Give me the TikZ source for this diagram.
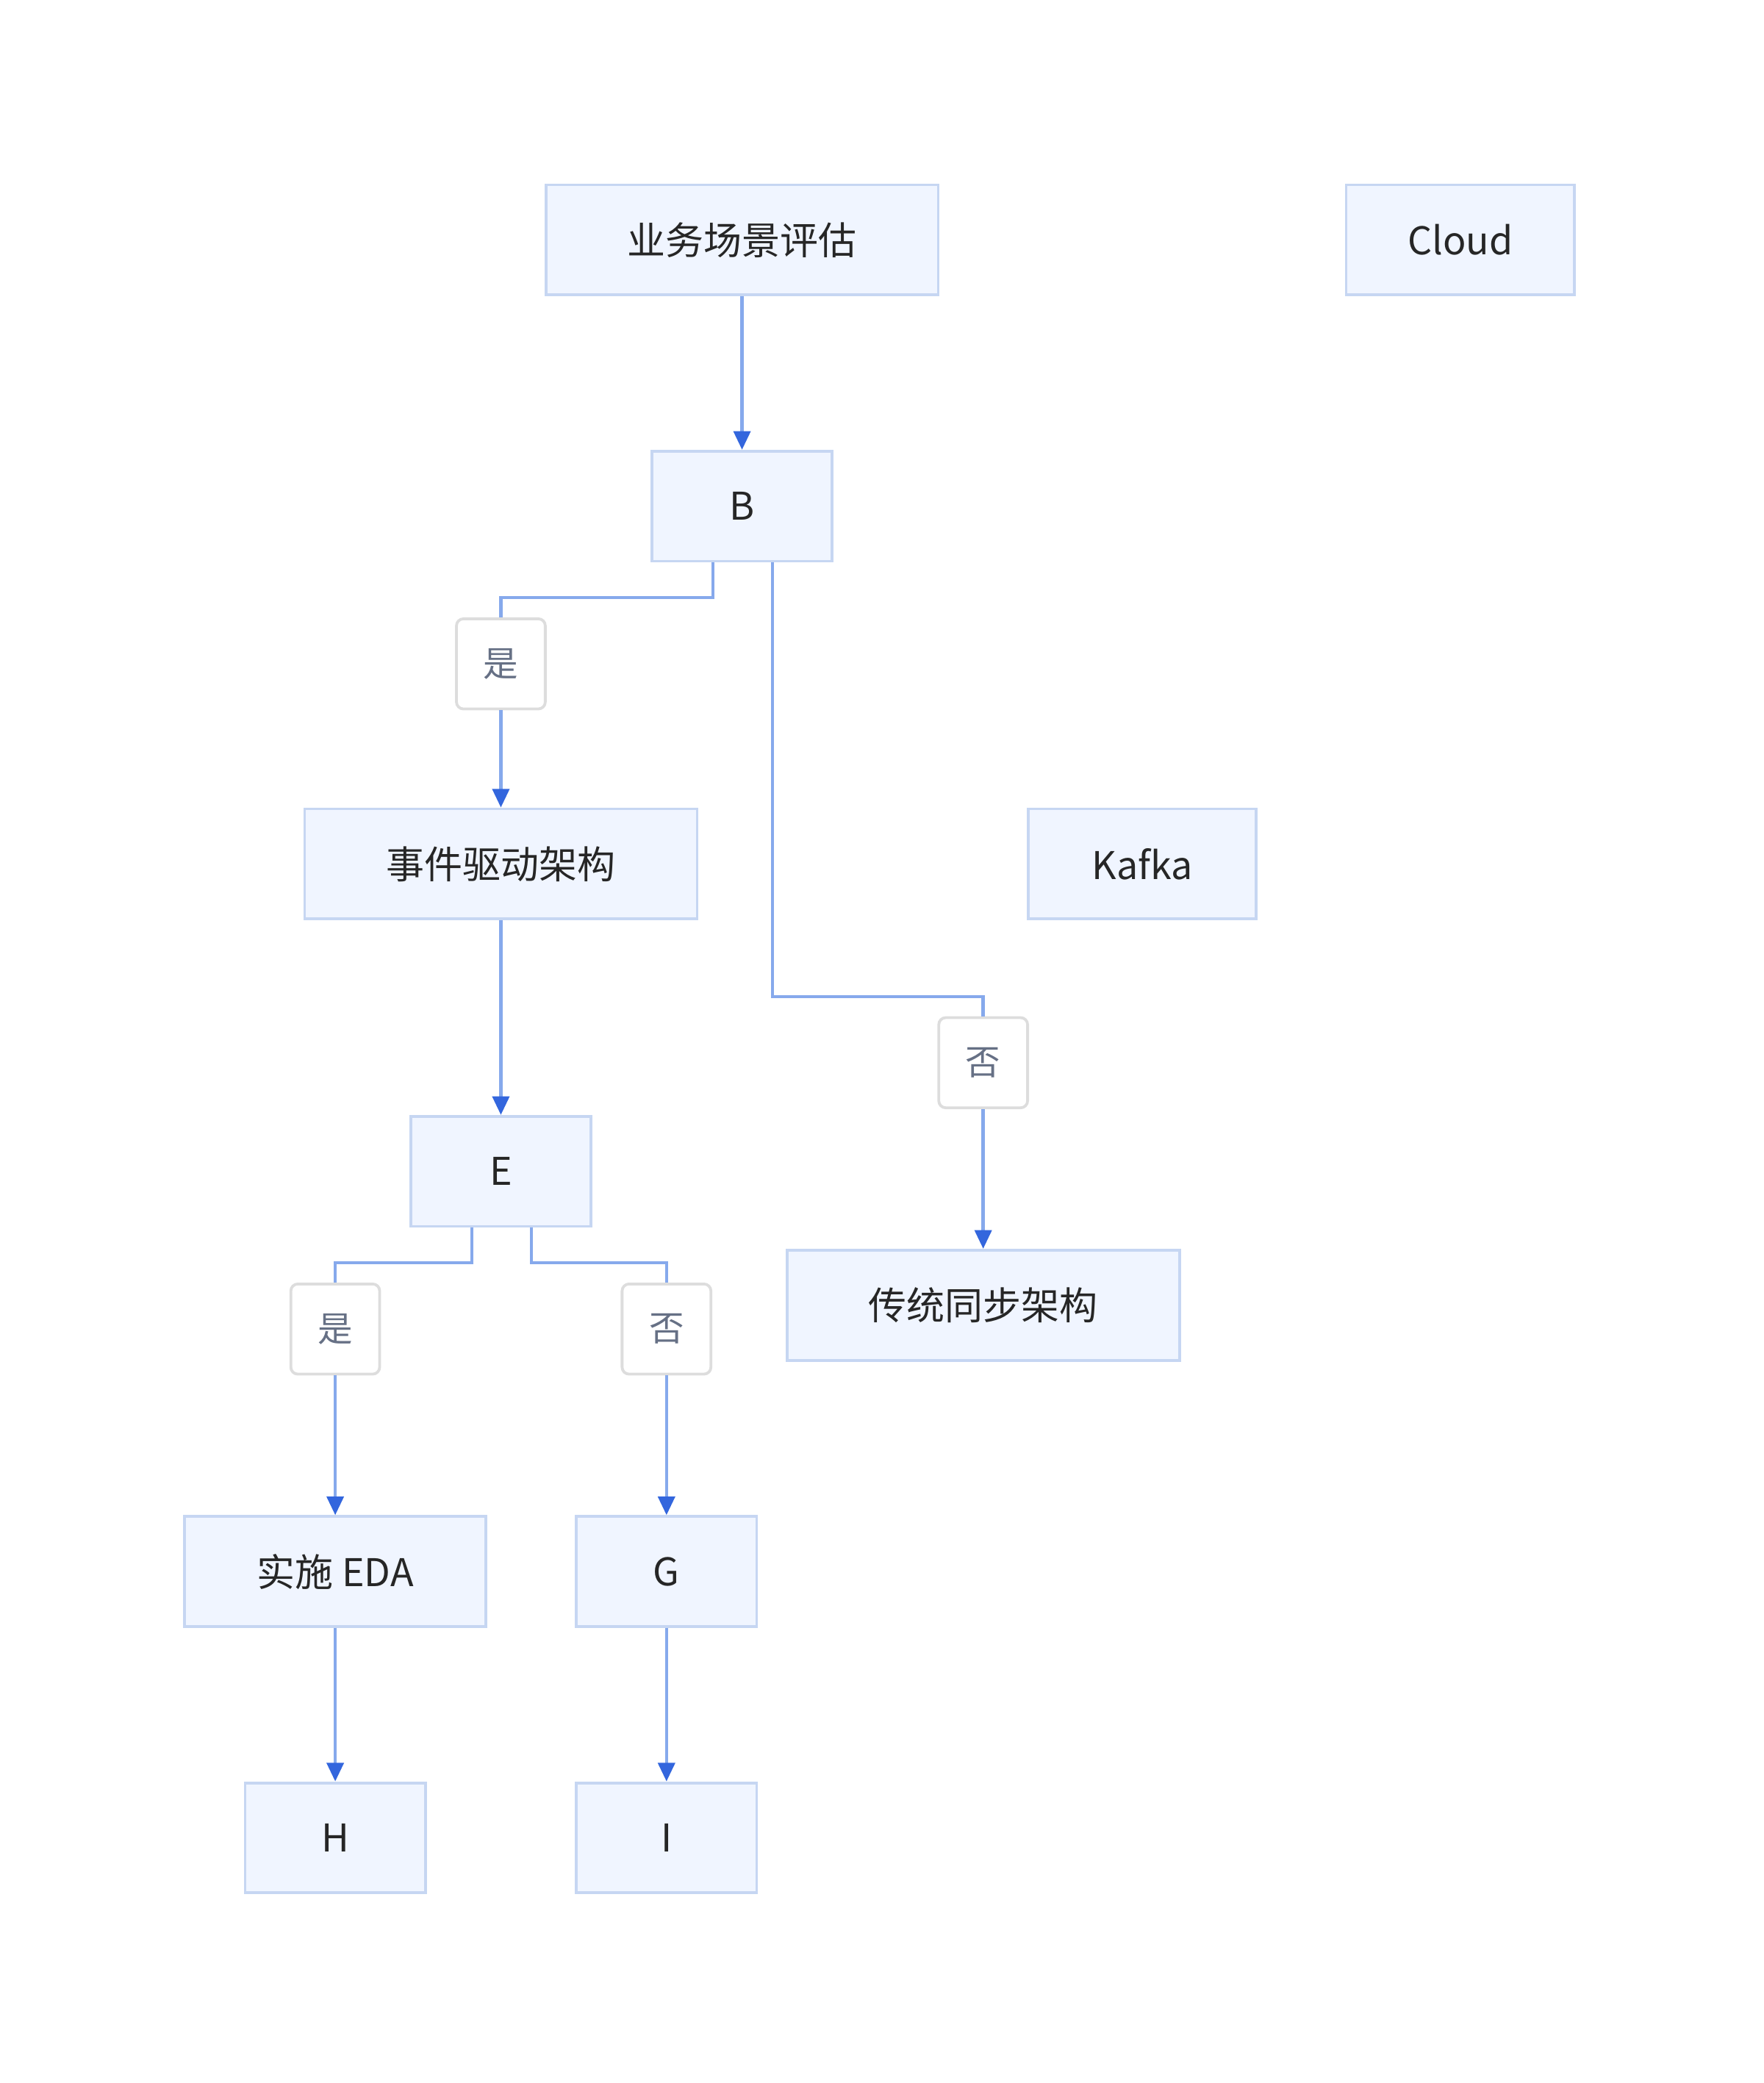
\documentclass[tikz,border=0pt]{standalone}
\usepackage{fontspec}
\setmainfont{Noto Sans CJK SC}
\usetikzlibrary{arrows.meta}
\definecolor{boxfill}{HTML}{F0F5FF}
\definecolor{boxline}{HTML}{C6D6F2}
\definecolor{linkline}{HTML}{86A9EC}
\definecolor{tipcol}{HTML}{3366DD}
\definecolor{lblline}{HTML}{DDDDDD}
\definecolor{lbltext}{HTML}{667085}
\begin{document}
\begin{tikzpicture}[x=0.01cm,y=-0.01cm]
\tikzset{ >={Triangle[length=4pt,width=3.6pt,fill=tipcol,color=tipcol]},
  box/.style={draw=boxline, fill=boxfill, line width=0.6pt, minimum height=0.83cm,
    inner sep=0pt, font=\fontsize{8.2}{10}\selectfont, text=black!85},
  lbl/.style={draw=lblline, fill=white, rounded corners=1.5pt, line width=0.6pt,
    minimum width=0.67cm, minimum height=0.68cm, inner sep=0pt,
    font=\fontsize{7.5}{9}\selectfont, text=lbltext},
  link/.style={draw=linkline, line width=0.7pt},
}
\useasboundingbox (0,0) rectangle (1331,1572);

\node [box, minimum width=2.96cm] (A) at (560,181) {业务场景评估};
\node [box, minimum width=1.72cm] (Cloud) at (1102,181) {Cloud};
\node [box, minimum width=1.36cm] (B) at (560,382) {B};
\node [box, minimum width=2.96cm] (EDA) at (378,652) {事件驱动架构};
\node [box, minimum width=1.72cm] (Kafka) at (862,652) {Kafka};
\node [box, minimum width=1.36cm] (E) at (378,884) {E};
\node [box, minimum width=2.96cm] (Sync) at (742,985) {传统同步架构};
\node [box, minimum width=2.27cm] (Impl) at (253,1186) {实施 EDA};
\node [box, minimum width=1.36cm] (G) at (503,1186) {G};
\node [box, minimum width=1.36cm] (H) at (253,1387) {H};
\node [box, minimum width=1.36cm] (I) at (503,1387) {I};

\node [lbl] (yes1) at (378,501) {是};
\node [lbl] (no1) at (742,802) {否};
\node [lbl] (yes2) at (253,1003) {是};
\node [lbl] (no2) at (503,1003) {否};

\draw [link, ->] (A) -- (B);
\draw [link] (B.south -| 538,0) |- (378,451) -- (yes1.north);
\draw [link, ->] (yes1) -- (EDA);
\draw [link] (B.south -| 583,0) |- (742,752) -- (no1.north);
\draw [link, ->] (no1) -- (Sync);
\draw [link, ->] (EDA) -- (E);
\draw [link] (E.south -| 356,0) |- (253,953) -- (yes2.north);
\draw [link] (E.south -| 401,0) |- (503,953) -- (no2.north);
\draw [link, ->] (yes2) -- (Impl);
\draw [link, ->] (no2) -- (G);
\draw [link, ->] (Impl) -- (H);
\draw [link, ->] (G) -- (I);

\end{tikzpicture}
\end{document}
